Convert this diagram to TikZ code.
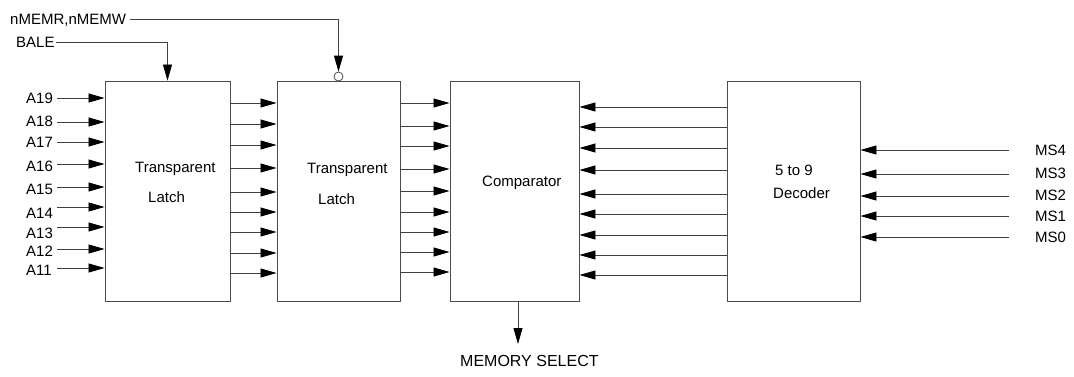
\documentclass[tikz,border=0pt]{standalone}
\usepackage{fontspec}
\setmainfont{Liberation Sans}
\usetikzlibrary{arrows.meta}
\begin{document}
\begin{tikzpicture}[x=1pt,y=-1pt,
  every node/.style={font=\fontsize{15}{18}\selectfont},
  blk/.style={draw=black!70,line width=0.9pt,minimum height=220pt,inner sep=0pt},
  wire/.style={draw=black!75,line width=0.8pt},
  arr/.style={wire,-{Triangle[length=16pt,width=9pt,black]}},
  lbl/.style={inner xsep=4pt,inner ysep=0pt,text depth=0pt},
  txt/.style={inner sep=0pt,anchor=base west}]
\useasboundingbox (0,0) rectangle (1074,376);
% blocks
\node[blk,minimum width=125pt] (l1) at (167.5,191) {};
\node[blk,minimum width=123pt] (l2) at (338.5,191) {};
\node[blk,minimum width=129pt] (cmp) at (514.5,191) {};
\node[blk,minimum width=133pt] (dec) at (793.5,191) {};
% block texts
\node[txt] (t1a) at (135,172.8) {Transparent};
\node[txt] (t1b) at (148,202.8) {Latch};
\node[txt] (t2a) at (307,173.2) {Transparent};
\node[txt] (t2b) at (318,204.3) {Latch};
\node[txt] (t3) at (482,186.8) {Comparator};
\node[txt] (t4a) at (775,175.3) {5 to 9};
\node[txt] (t4b) at (773,198.8) {Decoder};
% address inputs
\foreach \n/\ly/\ty in {19/98/98,18/122/121.5,17/142/142.5,16/164/166,15/187/189,14/207/213,13/227/233,12/249/251,11/268/270}{
  \node[lbl,anchor=west] (a\n) at (22,\ty) {A\n};
  \coordinate (s\n) at (57,\ly);
  \draw[arr] (s\n) -- (l1.west |- s\n);
}
% latch1 -> latch2
\foreach \y in {103,124,145,168,192,212,232,253,273}{
  \draw[arr] (l1.east |- 0,\y) -- (l2.west |- 0,\y);
}
% latch2 -> comparator
\foreach \y in {103,126,146,169,191,212,232,252,272}{
  \draw[arr] (l2.east |- 0,\y) -- (cmp.west |- 0,\y);
}
% decoder -> comparator
\foreach \y in {107,127,148,170,194,214,235,255,275}{
  \draw[arr] (dec.west |- 0,\y) -- (cmp.east |- 0,\y);
}
% MS inputs
\foreach \n/\ly/\ty in {4/150/150,3/174/173,2/196/195,1/216/216,0/237/237}{
  \node[lbl,anchor=west] (ms\n) at (1031,\ty) {MS\n};
  \coordinate (m\n) at (1009,\ly);
  \draw[arr] (m\n) -- (dec.east |- m\n);
}
% control signals
\node[lbl,anchor=west] (nmem) at (6,19.5) {nMEMR,nMEMW};
\node[lbl,anchor=west,inner xsep=1pt] (bale) at (15,42.7) {BALE};
\node[draw=black!70,line width=0.8pt,circle,inner sep=0pt,minimum size=9pt] (inv) at (338.5,76.5) {};
\draw[arr] (nmem.east) -| (inv.north);
\draw[arr] (bale.east) -| (l1.north);
% memory select
\coordinate (msel) at (518,344);
\draw[arr] (cmp.south -| msel) -- (msel);
\node[txt,font=\fontsize{16}{18}\selectfont] (mst) at (460,366.3) {MEMORY SELECT};
\end{tikzpicture}
\end{document}
